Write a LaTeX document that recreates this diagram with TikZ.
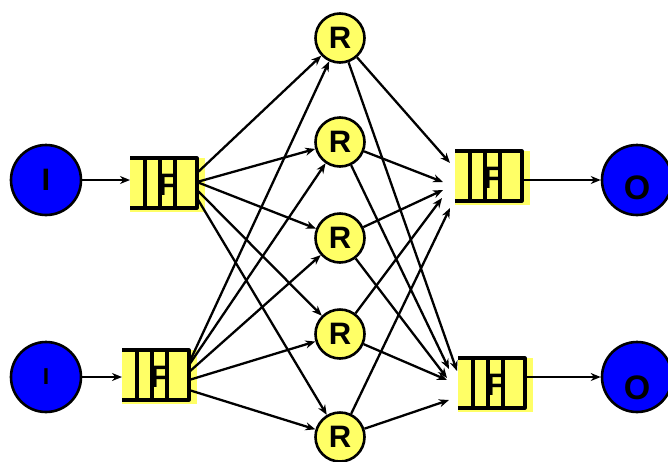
\documentclass[tikz,border=0pt]{standalone}
\usepackage{fontspec}
\setmainfont{Liberation Sans}
\usetikzlibrary{arrows.meta}

\definecolor{qyellow}{RGB}{255,255,102}
\definecolor{pblue}{RGB}{0,0,255}

\begin{document}
\begin{tikzpicture}[x=1pt, y=-1pt, line join=round,
    bigtext/.style={font=\bfseries\fontsize{31}{31}\selectfont},
    port/.style={circle, draw, line width=2.6pt, fill=pblue, minimum size=70pt, inner sep=0pt, bigtext},
    router/.style={circle, draw, line width=2.6pt, fill=qyellow, minimum size=49pt, inner sep=0pt, bigtext},
    queue/.style={rectangle, fill=qyellow, minimum width=75pt, minimum height=54pt, inner sep=0pt, outer sep=0pt, anchor=north west, bigtext},
    frame/.style={line width=3.2pt},
    link/.style={->, >={Stealth[length=10pt, width=8pt]}, line width=2.3pt}
]
\useasboundingbox (0,0) rectangle (668,461);

% Input and output ports
\node[port] (i1) at (46,180) {I};
\node[port, font=\bfseries\fontsize{23}{23}\selectfont] (i2) at (46,377) {I};
\node[port, label={[font=\bfseries\fontsize{34}{34}\selectfont, yshift=-8pt]center:O}] (o1) at (637,180) {};
\node[port, label={[font=\bfseries\fontsize{34}{34}\selectfont, yshift=-11pt]center:O}] (o2) at (637,377) {};

% Queues (yellow block, frame drawn on top)
\node[queue] (qa) at (130,158) {F};
\node[queue] (qb) at (122,350) {F};
\node[queue] (qc) at (455,151) {F};
\node[queue] (qd) at (458,358) {F};

\foreach \q in {qa,qb,qc,qd} {
  \draw[frame] (\q.north west) -- ++(67,0) -- ++(0,50) -- ++(-67,0);
  \foreach \dx in {15,30,45}
    \draw[frame] ([shift={(\dx,0)}]\q.north west) -- ++(0,50);
}

% Routers
\foreach \n/\y in {1/38,2/142,3/238,4/334,5/437}
  \node[router] (r\n) at (340,\y) {R};

% Ports into queues
\draw[link] (i1) -- (i1 -| qa.west);
\draw[link] (i2) -- (i2 -| qb.west);

% Input queues to every router
\foreach \r/\dy in {1/15,2/24,3/24,4/32,5/40}
  \draw[link] ([shift={(67,\dy)}]qa.north west) -- (r\r);
\foreach \r/\dy in {1/13,2/15,3/22,4/30,5/40}
  \draw[link] ([shift={(67,\dy)}]qb.north west) -- (r\r);

% Every router to the output queues
\foreach \r/\dx/\dy in {1/-5/12,2/-12/31,3/-12/39,4/-13/47,5/-5/57}
  \draw[link] (r\r) -- ([shift={(\dx,\dy)}]qc.north west);
\foreach \r/\dx/\dy in {1/-1/13,2/-9/11,3/-11/20,4/-11/22,5/-9/42}
  \draw[link] (r\r) -- ([shift={(\dx,\dy)}]qd.north west);

% Queues out to the ports
\draw[link] ([shift={(67,29)}]qc.north west) -- (o1);
\draw[link] ([shift={(67,19)}]qd.north west) -- (o2);

\end{tikzpicture}
\end{document}
